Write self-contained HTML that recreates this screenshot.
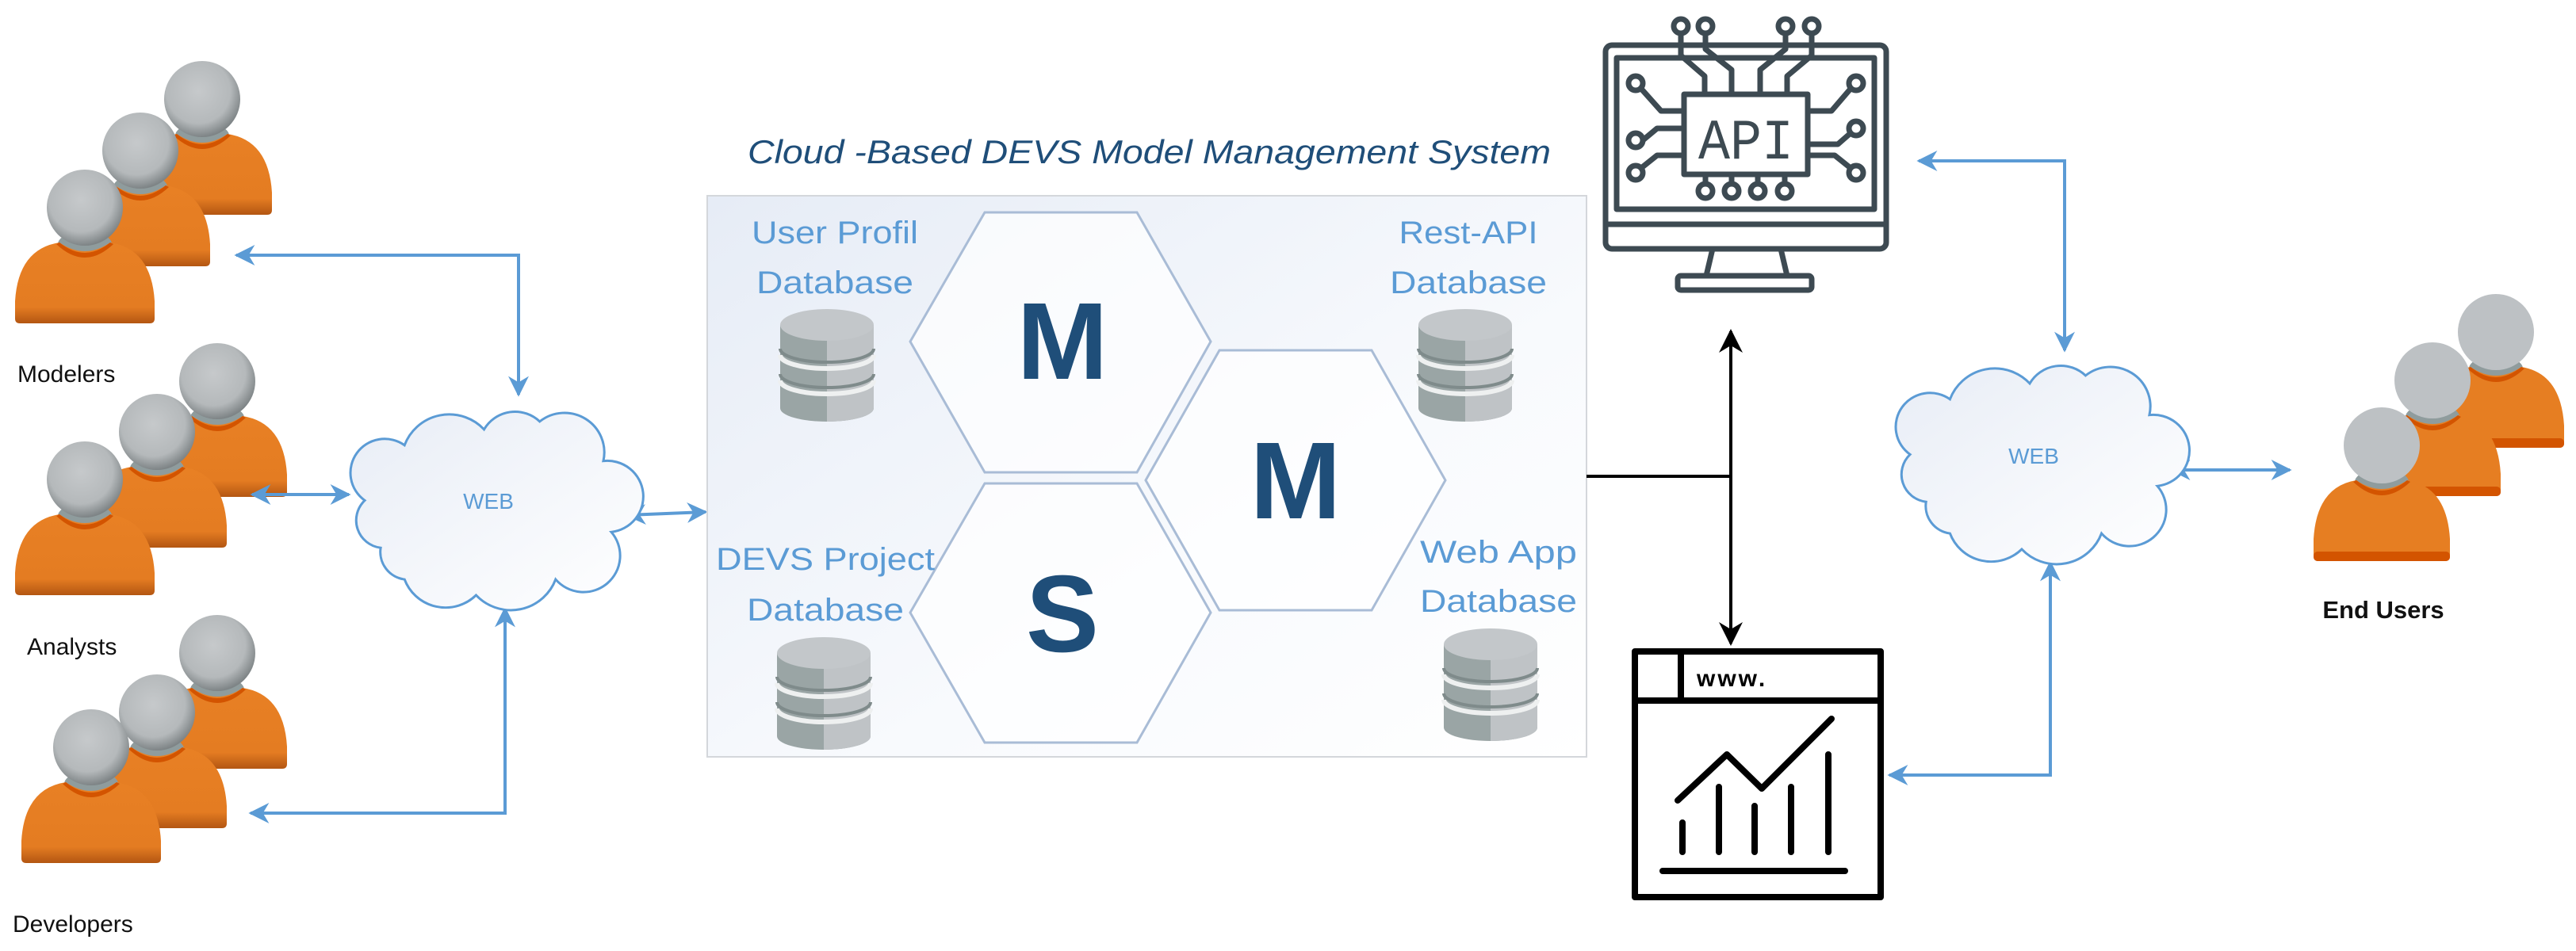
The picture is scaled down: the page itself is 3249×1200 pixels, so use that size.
<!DOCTYPE html>
<html><head><meta charset="utf-8"><style>html,body{margin:0;padding:0;background:#fff}svg{display:block}</style></head>
<body>
<svg width="3249" height="1200" viewBox="0 0 3249 1200" xmlns="http://www.w3.org/2000/svg">
<defs>
<linearGradient id="boxg" x1="0" y1="0" x2="1" y2="1"><stop offset="0" stop-color="#e6ecf6"/><stop offset="0.6" stop-color="#f8fafd"/><stop offset="1" stop-color="#ffffff"/></linearGradient>
<linearGradient id="cg" x1="0" y1="0" x2="1" y2="1"><stop offset="0" stop-color="#e8edf6"/><stop offset="1" stop-color="#ffffff"/></linearGradient>
<radialGradient id="hg" cx="0.45" cy="0.4" r="0.6"><stop offset="0" stop-color="#c6c9cb"/><stop offset="0.7" stop-color="#b5b9bb"/><stop offset="1" stop-color="#7e8486"/></radialGradient>
<linearGradient id="bg" x1="0" y1="0" x2="0" y2="1"><stop offset="0" stop-color="#e88024"/><stop offset="0.8" stop-color="#e47c22"/><stop offset="1" stop-color="#b35612"/></linearGradient>
<marker id="ab" viewBox="0 0 10 10" refX="9" refY="5" markerWidth="30" markerHeight="26" markerUnits="userSpaceOnUse" orient="auto-start-reverse"><path d="M0 0 L10 5 L0 10 L3 5 Z" fill="#5b9bd5"/></marker>
<marker id="ak" viewBox="0 0 10 10" refX="9" refY="5" markerWidth="32" markerHeight="30" markerUnits="userSpaceOnUse" orient="auto-start-reverse"><path d="M0 0 L10 5 L0 10 L3 5 Z" fill="#000"/></marker>
<g id="person">
<ellipse cx="0" cy="46" rx="34" ry="16" fill="#8f9c9d"/>
<path d="M-88 140 L-88 118 Q-84 52 -32 44 Q0 66 32 44 Q84 52 88 118 L88 140 Q88 146 82 146 L-82 146 Q-88 146 -88 140 Z" fill="url(#bg)"/>
<path d="M-32 44 Q0 70 32 44 L36 46 Q0 80 -36 46 Z" fill="#d35400"/>
<circle cx="0" cy="0" r="48" fill="url(#hg)"/>
</g>
<g id="personf">
<ellipse cx="0" cy="46" rx="34" ry="16" fill="#8f9c9d"/>
<path d="M-86 140 L-86 118 Q-82 52 -32 44 Q0 66 32 44 Q82 52 86 118 L86 140 Q86 146 80 146 L-80 146 Q-86 146 -86 140 Z" fill="#e67e22"/>
<rect x="-86" y="134" width="172" height="12" rx="5" fill="#d35400"/>
<path d="M-32 44 Q0 70 32 44 L36 46 Q0 80 -36 46 Z" fill="#d35400"/>
<circle cx="0" cy="0" r="48" fill="#bdc1c4"/>
</g>
<path id="cloud" d="M 40 190 A 35 35 0 0 1 20 130 A 40 40 0 0 1 70 60 A 60 60 0 0 1 170 40 A 45 45 0 0 1 240 30 A 50 50 0 0 1 320 80 A 40 40 0 0 1 330 170 A 45 45 0 0 1 260 230 A 60 60 0 0 1 160 250 A 55 55 0 0 1 70 230 A 35 35 0 0 1 40 190 Z"/>
<g id="db">
<path d="M0 20 L0 125 A59 17 0 0 0 118 125 L118 20 Z" fill="#9aa5a5"/>
<path d="M59 35 L59 142 A59 17 0 0 0 118 125 L118 20 Z" fill="#bfc3c6"/>
<path d="M0 58 A59 17 0 0 0 118 58" fill="none" stroke="#eef0f0" stroke-width="6"/>
<path d="M0 90 A59 17 0 0 0 118 90" fill="none" stroke="#eef0f0" stroke-width="6"/>
<path d="M0 50 A59 17 0 0 0 118 50" fill="none" stroke="#7f8b8b" stroke-width="4"/>
<path d="M0 82 A59 17 0 0 0 118 82" fill="none" stroke="#7f8b8b" stroke-width="4"/>
<ellipse cx="59" cy="20" rx="59" ry="20" fill="#c3c7ca"/>
</g>
</defs>

<use href="#person" x="255" y="125"/><use href="#person" x="177" y="190"/><use href="#person" x="107" y="262"/>
<use href="#person" x="274" y="481"/><use href="#person" x="198" y="545"/><use href="#person" x="107" y="605"/>
<use href="#person" x="274" y="824"/><use href="#person" x="198" y="899"/><use href="#person" x="115" y="943"/>
<g font-family="Liberation Sans, sans-serif" font-size="30" fill="#111">
<text x="22" y="482">Modelers</text>
<text x="34" y="826">Analysts</text>
<text x="16" y="1176">Developers</text>
</g>

<g stroke="#5b9bd5" stroke-width="4" fill="none">
<polyline points="298,322 654,322 654,498" marker-start="url(#ab)" marker-end="url(#ab)"/>
<line x1="318" y1="624" x2="440" y2="624" marker-start="url(#ab)" marker-end="url(#ab)"/>
<line x1="791" y1="650" x2="890" y2="646" marker-start="url(#ab)" marker-end="url(#ab)"/>
<polyline points="316,1026 637,1026 637,768" marker-start="url(#ab)" marker-end="url(#ab)"/>
</g>
<use href="#cloud" transform="translate(440,502) scale(1.003,0.996)" fill="url(#cg)" stroke="#5b9bd5" stroke-width="3"/>
<text x="616" y="642" font-family="Liberation Sans, sans-serif" font-size="28" fill="#5b9bd5" text-anchor="middle">WEB</text>

<text x="943" y="206" font-family="Liberation Sans, sans-serif" font-style="italic" font-size="42" fill="#1f4e79" textLength="1013" lengthAdjust="spacingAndGlyphs">Cloud -Based DEVS Model Management System</text>

<rect x="892" y="247" width="1109" height="708" fill="url(#boxg)" stroke="#d4d7db" stroke-width="2"/>
<g fill="#ffffff" fill-opacity="0.7" stroke="#a9bcd6" stroke-width="3">
<polygon points="1148,431 1242,268 1434,268 1527,431 1434,596 1242,596"/>
<polygon points="1445,606 1538,442 1730,442 1823,606 1730,770 1538,770"/>
<polygon points="1148,773 1242,610 1434,610 1527,773 1434,937 1242,937"/>
</g>
<g font-family="Liberation Sans, sans-serif" font-weight="bold" fill="#1f4e79" text-anchor="middle">
<text x="1340" y="478" font-size="138">M</text>
<text x="1634" y="654" font-size="138">M</text>
<text x="1340" y="822" font-size="138">S</text>
</g>
<g font-family="Liberation Sans, sans-serif" font-size="40" fill="#5b9bd5" text-anchor="middle">
<text x="1053" y="307" textLength="210" lengthAdjust="spacingAndGlyphs">User Profil</text>
<text x="1053" y="370" textLength="198" lengthAdjust="spacingAndGlyphs">Database</text>
<text x="1852" y="307" textLength="175" lengthAdjust="spacingAndGlyphs">Rest-API</text>
<text x="1852" y="370" textLength="198" lengthAdjust="spacingAndGlyphs">Database</text>
<text x="1041" y="719" textLength="276" lengthAdjust="spacingAndGlyphs">DEVS Project</text>
<text x="1041" y="783" textLength="198" lengthAdjust="spacingAndGlyphs">Database</text>
<text x="1890" y="710" textLength="198" lengthAdjust="spacingAndGlyphs">Web App</text>
<text x="1890" y="772" textLength="198" lengthAdjust="spacingAndGlyphs">Database</text>
</g>
<use href="#db" x="984" y="390"/><use href="#db" x="1789" y="390"/><use href="#db" x="980" y="804"/><use href="#db" x="1821" y="793"/>

<g stroke="#000" stroke-width="4" fill="none">
<line x1="2001" y1="601" x2="2183" y2="601"/>
<line x1="2183" y1="418" x2="2183" y2="812" marker-start="url(#ak)" marker-end="url(#ak)"/>
</g>

<g stroke="#3d4a52" stroke-width="7" fill="none" stroke-linejoin="round">
<rect x="2025" y="57" width="354" height="257" rx="8"/>
<rect x="2039" y="73" width="325" height="191" fill="#fff"/>
<line x1="2025" y1="283" x2="2379" y2="283"/>
<path d="M2160 314 L2152 348 M2246 314 L2254 348"/>
<rect x="2116" y="348" width="169" height="18" rx="4"/>
<rect x="2124" y="119" width="156" height="101" fill="#fff"/>
<path d="M2120 41 L2120 70 L2150 96 L2150 119 M2151 41 L2151 62 L2184 88 L2184 119 M2252 41 L2252 62 L2220 88 L2220 119 M2285 41 L2285 70 L2254 96 L2254 119"/>
<path d="M2151 220 L2151 232 M2184 220 L2184 232 M2217 220 L2217 232 M2251 220 L2251 232"/>
<path d="M2070 112 L2095 140 L2124 140 M2072 177 L2090 162 L2124 162 M2070 212 L2090 196 L2124 196"/>
<path d="M2334 112 L2310 140 L2280 140 M2334 168 L2318 182 L2280 182 M2334 212 L2314 196 L2280 196"/>
<circle cx="2120" cy="33" r="9"/><circle cx="2151" cy="33" r="9"/><circle cx="2252" cy="33" r="9"/><circle cx="2285" cy="33" r="9"/>
<circle cx="2151" cy="241" r="9"/><circle cx="2184" cy="241" r="9"/><circle cx="2217" cy="241" r="9"/><circle cx="2251" cy="241" r="9"/>
<circle cx="2063" cy="105" r="9"/><circle cx="2063" cy="177" r="9"/><circle cx="2063" cy="218" r="9"/>
<circle cx="2341" cy="105" r="9"/><circle cx="2341" cy="162" r="9"/><circle cx="2341" cy="218" r="9"/>
</g>
<text x="2202" y="200" font-family="Liberation Mono, monospace" font-size="72" fill="#3d4a52" text-anchor="middle" textLength="120" lengthAdjust="spacingAndGlyphs">API</text>

<g stroke="#000" stroke-width="8" fill="none" stroke-linecap="round" stroke-linejoin="round">
<rect x="2062" y="822" width="310" height="310" fill="#fff"/>
<line x1="2062" y1="884" x2="2372" y2="884"/>
<line x1="2120" y1="822" x2="2120" y2="884"/>
<polyline points="2116,1010 2178,952 2222,995 2310,907"/>
<path d="M2122 1038 L2122 1075 M2168 993 L2168 1075 M2213 1017 L2213 1075 M2259 993 L2259 1075 M2306 952 L2306 1075"/>
<line x1="2097" y1="1099" x2="2327" y2="1099"/>
</g>
<text x="2140" y="866" font-family="Liberation Sans, sans-serif" font-weight="bold" font-size="30" fill="#000" letter-spacing="3">www.</text>

<g stroke="#5b9bd5" stroke-width="4" fill="none">
<polyline points="2420,203 2604,203 2604,442" marker-start="url(#ab)" marker-end="url(#ab)"/>
<line x1="2739" y1="593" x2="2888" y2="593" marker-start="url(#ab)" marker-end="url(#ab)"/>
<polyline points="2383,978 2586,978 2586,710" marker-start="url(#ab)" marker-end="url(#ab)"/>
</g>
<use href="#cloud" transform="translate(2389,444) scale(1.006,0.996)" fill="url(#cg)" stroke="#5b9bd5" stroke-width="3"/>
<text x="2565" y="585" font-family="Liberation Sans, sans-serif" font-size="28" fill="#5b9bd5" text-anchor="middle">WEB</text>

<use href="#personf" x="3148" y="419"/><use href="#personf" x="3068" y="480"/><use href="#personf" x="3004" y="562"/>
<text x="3006" y="780" font-family="Liberation Sans, sans-serif" font-weight="bold" font-size="31" fill="#111" text-anchor="middle">End Users</text>
</svg>
</body></html>
